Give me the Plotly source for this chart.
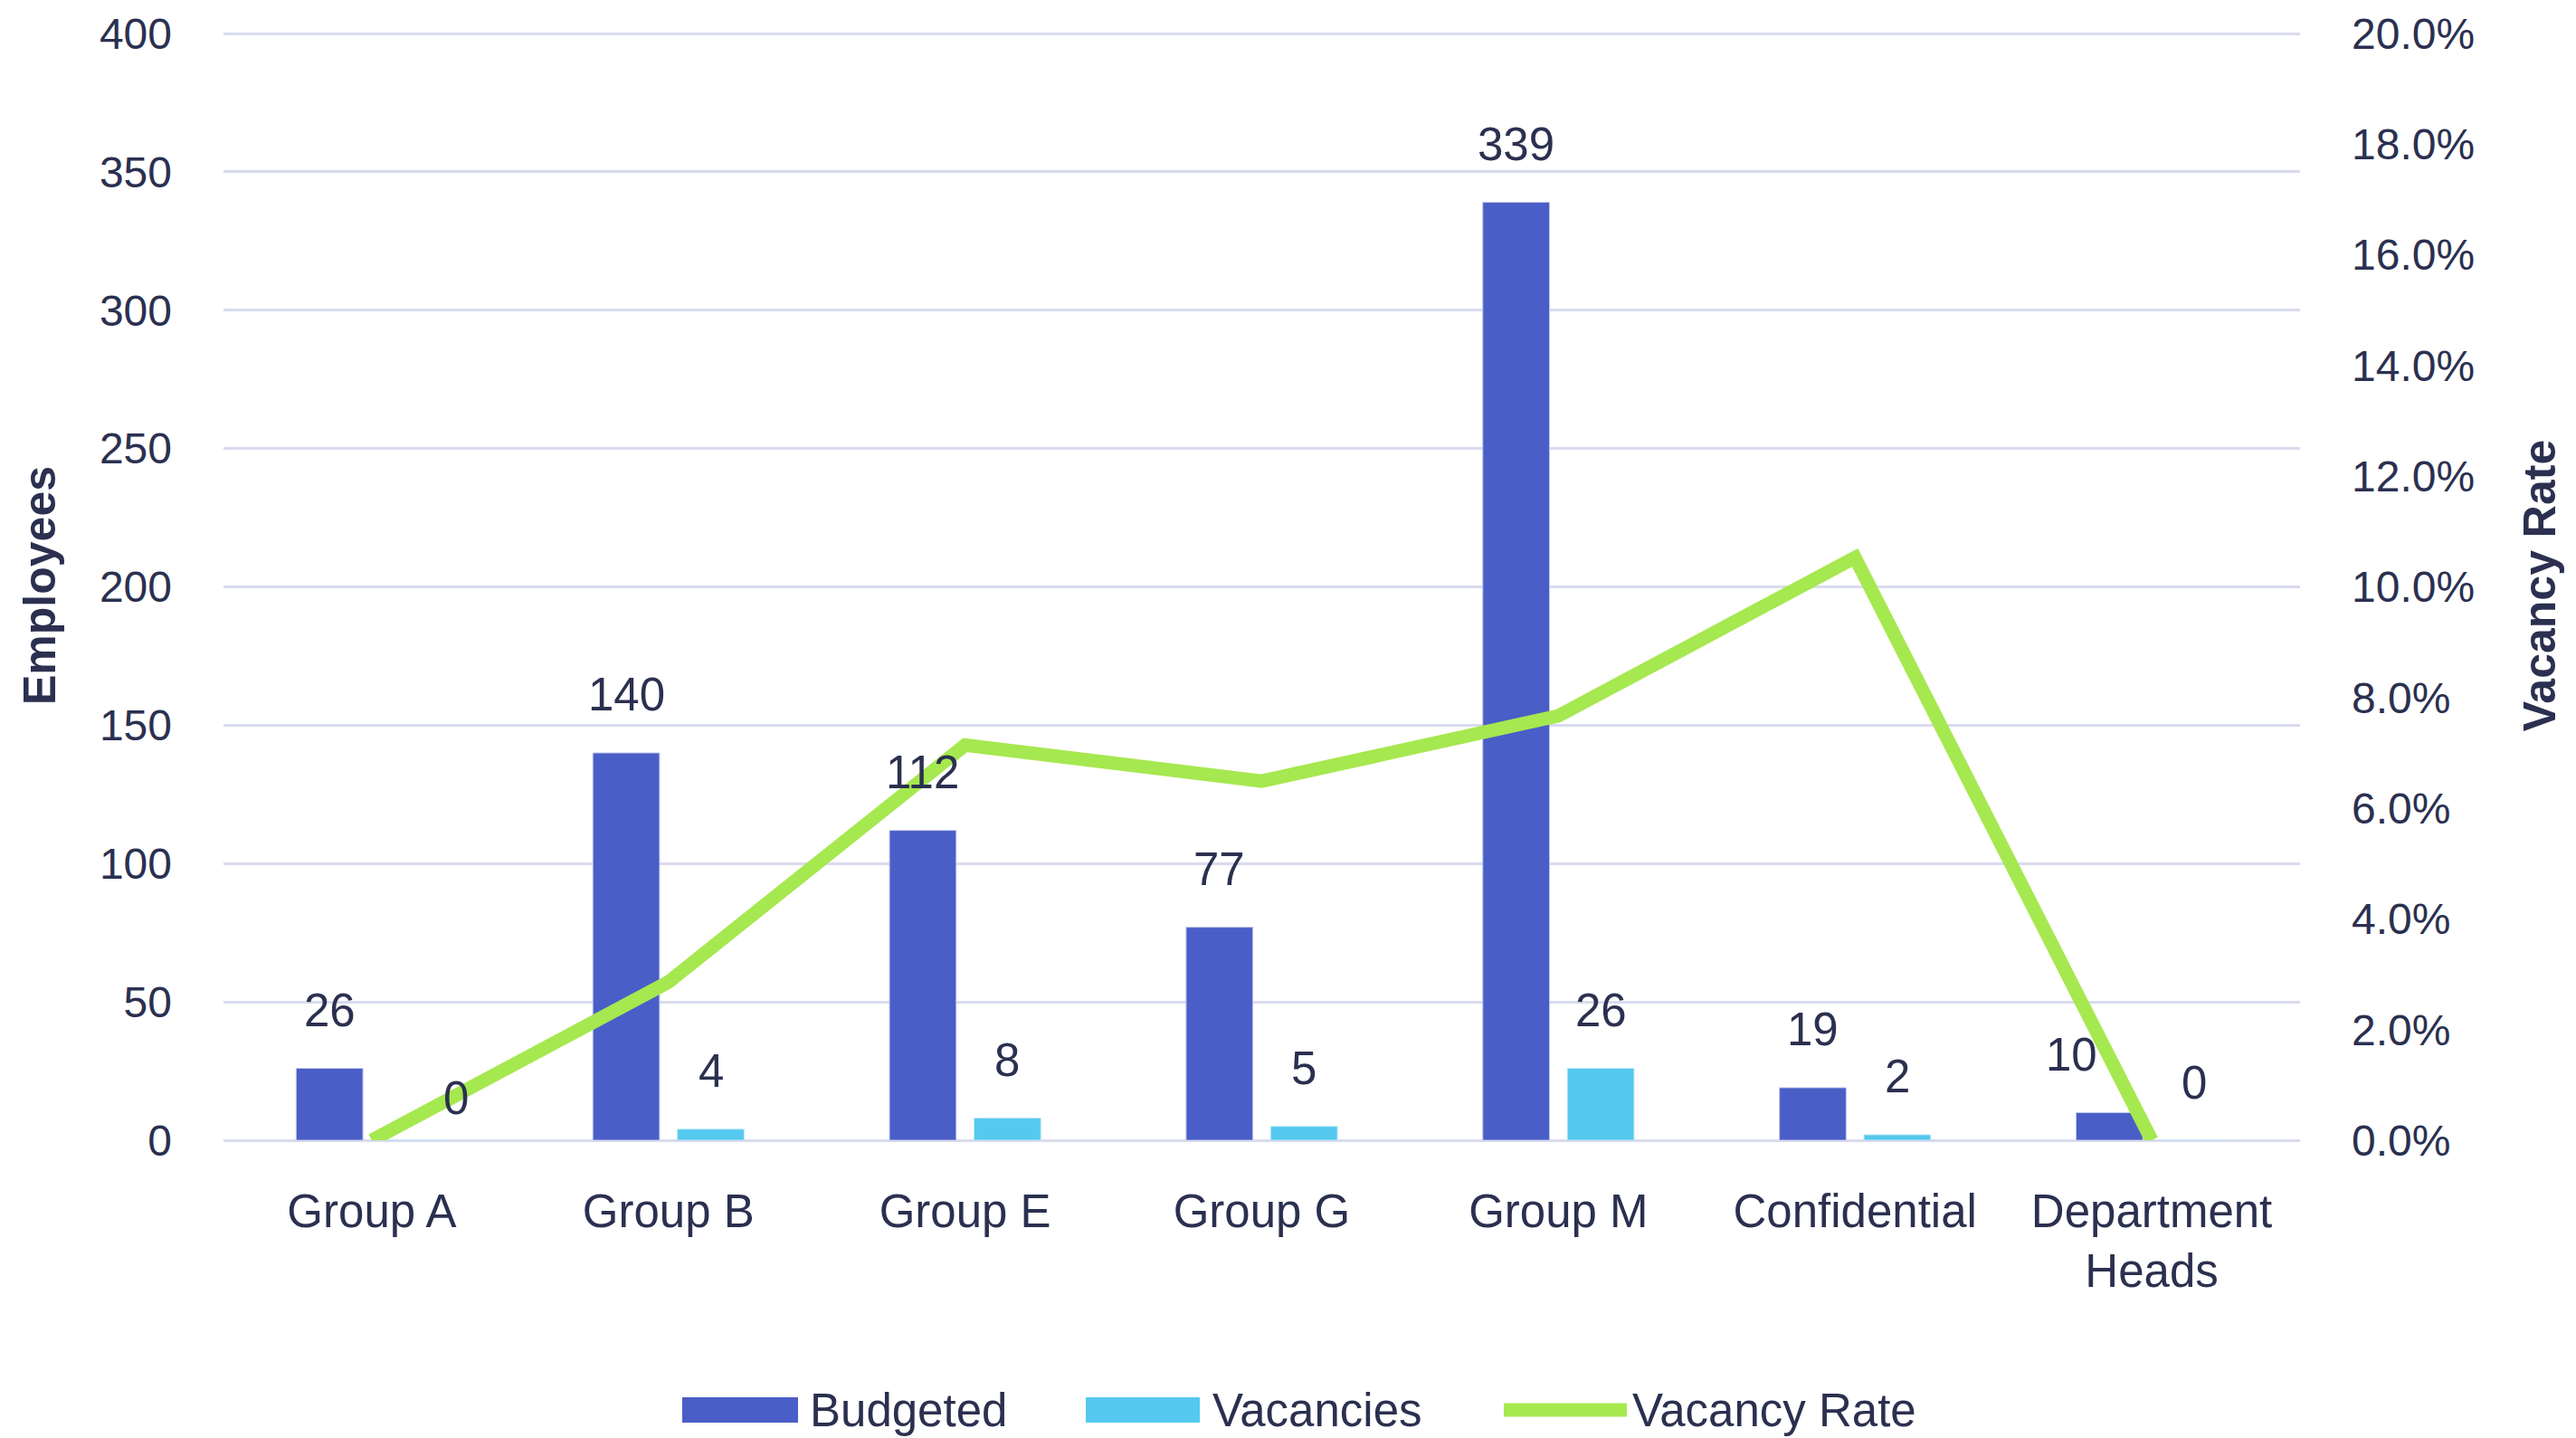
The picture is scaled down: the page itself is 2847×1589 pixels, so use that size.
import plotly.graph_objects as go

categories = ["Group A", "Group B", "Group E", "Group G", "Group M", "Confidential", "Department<br>Heads"]
budgeted = [26, 140, 112, 77, 339, 19, 10]
vacancies = [0, 4, 8, 5, 26, 2, 0]
vacancy_rate = [0.0, 0.0286, 0.0714, 0.0649, 0.0767, 0.1053, 0.0]
left_ticks = [0, 50, 100, 150, 200, 250, 300, 350, 400]
right_ticks = [0, 0.02, 0.04, 0.06, 0.08, 0.10, 0.12, 0.14, 0.16, 0.18, 0.20]

TXT = "#2B3050"
GRID = "#D9DBEE"
FONT = "Liberation Sans"
C_BUD = "#4A5EC7"
C_VAC = "#55C9EF"
C_LINE = "#A6E84F"
BAR_W = 0.225
OFF_B = -0.255
OFF_V = 0.03

# page is offset by the 8px body margin
OFF = 8
W, H = 2847 - OFF, 1589 - OFF
ML, MR, MT, MB = 239, 305, 26, 329
PW = W - ML - MR
PH = H - MT - MB
Y_TOP = 401  # a little headroom so the 400 gridline is drawn
Y2_TOP = 0.2 * Y_TOP / 400

x = list(range(len(categories)))

fig = go.Figure()
fig.add_trace(go.Bar(
    x=x, y=budgeted, name="Budgeted", width=BAR_W, offset=OFF_B, showlegend=False,
    marker=dict(color=C_BUD, line=dict(color="#C3C9EC", width=1)),
))
fig.add_trace(go.Bar(
    x=x, y=vacancies, name="Vacancies", width=BAR_W, offset=OFF_V, showlegend=False,
    marker=dict(color=C_VAC, line=dict(color="#BDE9F8", width=1)),
))
fig.add_trace(go.Scatter(
    x=x, y=vacancy_rate, name="Vacancy Rate", yaxis="y2", mode="lines", showlegend=False,
    line=dict(color=C_LINE, width=15), cliponaxis=False,
))

# data labels
LBL = dict(family=FONT, size=51, color=TXT)
nudge_b = {6: -42}
nudge_v = {0: (46, -17)}
ann = []
for i, v in enumerate(budgeted):
    ann.append(dict(x=i + OFF_B + BAR_W / 2, y=v, xref="x", yref="y", text=str(v),
                    showarrow=False, yanchor="middle", yshift=64, xshift=nudge_b.get(i, 0),
                    font=LBL))
for i, v in enumerate(vacancies):
    dx, dy = nudge_v.get(i, (0, 0))
    ann.append(dict(x=i + OFF_V + BAR_W / 2, y=v, xref="x", yref="y", text=str(v),
                    showarrow=False, yanchor="middle", yshift=64 + dy, xshift=dx,
                    font=LBL))

# custom legend (paper coordinates derived from page pixel layout)
def px(p):
    return (p - OFF - ML) / PW

def py(p):
    return (H - MB - (p - OFF)) / PH

shapes = []
legend_items = [
    ("Budgeted", "bar", C_BUD, 754, 882, 893),
    ("Vacancies", "bar", C_VAC, 1200, 1326, 1338),
    ("Vacancy Rate", "line", C_LINE, 1662, 1798, 1802),
]
LEG_Y = 1558
for name, kind, col, x0, x1, tx in legend_items:
    if kind == "bar":
        shapes.append(dict(type="rect", xref="paper", yref="paper",
                           x0=px(x0), x1=px(x1), y0=py(LEG_Y - 14), y1=py(LEG_Y + 14),
                           fillcolor=col, line=dict(width=0)))
    else:
        shapes.append(dict(type="line", xref="paper", yref="paper",
                           x0=px(x0), x1=px(x1), y0=py(LEG_Y), y1=py(LEG_Y),
                           line=dict(color=col, width=15)))
    ann.append(dict(x=px(tx), y=py(LEG_Y), xref="paper", yref="paper", text=name,
                    showarrow=False, xanchor="left", yanchor="middle",
                    font=dict(family=FONT, size=51, color=TXT)))

fig.update_layout(
    width=W, height=H,
    margin=dict(l=ML, r=MR, t=MT, b=MB),
    paper_bgcolor="white", plot_bgcolor="white",
    font=dict(family=FONT, color=TXT),
    showlegend=False,
    xaxis=dict(
        tickmode="array", tickvals=x, ticktext=categories, range=[-0.5, len(categories) - 0.5],
        showgrid=False, zeroline=False, showline=False, ticks="", automargin=False,
        tickfont=dict(family=FONT, size=51, color=TXT), ticklabelstandoff=44,
    ),
    yaxis=dict(
        range=[0, Y_TOP], tickmode="array", tickvals=left_ticks, automargin=False,
        showgrid=True, gridcolor=GRID, gridwidth=3, zeroline=True, zerolinecolor=GRID, zerolinewidth=3,
        showline=False, ticks="", tickfont=dict(family=FONT, size=48, color=TXT),
        ticklabelstandoff=56, ticklabeloverflow="allow",
        title=dict(text="<b>Employees</b>", font=dict(family=FONT, size=50, color=TXT), standoff=32),
    ),
    yaxis2=dict(
        range=[0, Y2_TOP], tickmode="array", tickvals=right_ticks, tickformat=".1%", automargin=False,
        overlaying="y", side="right", showgrid=False, zeroline=False, showline=False, ticks="",
        tickfont=dict(family=FONT, size=48, color=TXT), ticklabelstandoff=56, ticklabeloverflow="allow",
        title=dict(text="<b>Vacancy Rate</b>", font=dict(family=FONT, size=50, color=TXT), standoff=54),
    ),
    shapes=shapes,
    annotations=ann,
)

fig.write_html("out.html")
